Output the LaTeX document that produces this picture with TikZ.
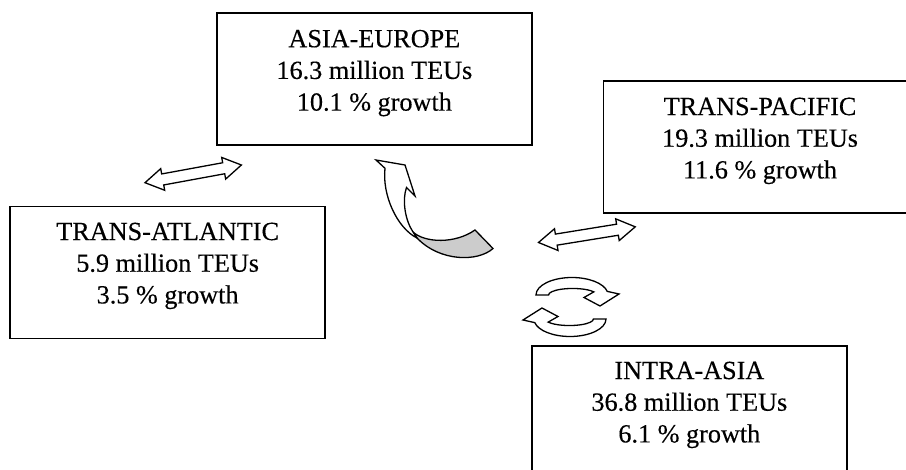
\documentclass[tikz,border=0pt]{standalone}
\usepackage{fontspec}
\setmainfont{Liberation Serif}[FakeBold=0.3]
\begin{document}
\begin{tikzpicture}[x=1pt,y=-1pt,
  region/.style={draw=black, line width=1.7pt, minimum width=315pt,
    minimum height=132pt, anchor=north west, inner sep=0pt},
  figures/.style={anchor=north, align=center, inner sep=0pt,
    font=\fontsize{26.2}{31.7}\selectfont},
  blockarrow/.style={draw=black, fill=white, line width=1.3pt, line join=miter},
  backface/.style={draw=black, fill=black!20, line width=1.3pt},
  twoway/.pic={
    \draw[blockarrow] (0,0) -- (18,-11) -- (18,-5.6) -- (80,-5.6)
      -- (80,-11) -- (98,0) -- (80,11) -- (80,5.6) -- (18,5.6)
      -- (18,11) -- cycle;}]
\useasboundingbox (0,0) rectangle (906,470);
\clip (0,0) rectangle (906,470);

% trade route boxes
\node[region] (ae) at (216,12) {};
\node[region, minimum width=313pt] (tp) at (602.7,80) {};
\node[region] (ta) at (9.3,205.7) {};
\node[region] (ia) at (531,345) {};

\node[figures] (ae-t) at ([yshift=-17.7pt]ae.north)
  {ASIA-EUROPE\\16.3 million TEUs\\10.1 \% growth};
\node[figures] (tp-t) at ([yshift=-17.5pt]tp.north)
  {TRANS-PACIFIC\\19.3 million TEUs\\11.6 \% growth};
\node[figures] (ta-t) at ([yshift=-16.8pt]ta.north)
  {TRANS-ATLANTIC\\5.9 million TEUs\\3.5 \% growth};
\node[figures] (ia-t) at ([yshift=-16.5pt]ia.north)
  {INTRA-ASIA\\36.8 million TEUs\\6.1 \% growth};

% two-way block arrows
\pic[rotate=10.4] at (145,182.7) {twoway};
\pic[rotate=9.2] at (538.5,242.5) {twoway};

% twisted curved arrow pointing up to Asia-Europe
\draw[backface] (413,232) .. controls (425,243) and (455,244) .. (475,230)
  -- (493,248.5) .. controls (478,262) and (440,262) .. (417,238) -- cycle;
\draw[blockarrow] (376,160) -- (405,165) -- (415,196) -- (406.5,187.5)
  .. controls (402,200) and (405,220) .. (413,232) -- (417,238)
  .. controls (397,228) and (382,195) .. (385,168.3) -- cycle;

% pair of circular arrows
\foreach \turn in {0,180} {
  \begin{scope}[rotate around={\turn:(571,307)}]
    \draw[blockarrow] (536,295)
      arc[start angle=180, end angle=348, x radius=36, y radius=17.5]
      -- (619,294) -- (600,306) -- (584,297.5) -- (593.8,291.9)
      arc[start angle=-28, end angle=-180, x radius=24, y radius=6.5]
      -- cycle;
  \end{scope}
}
\end{tikzpicture}
\end{document}
